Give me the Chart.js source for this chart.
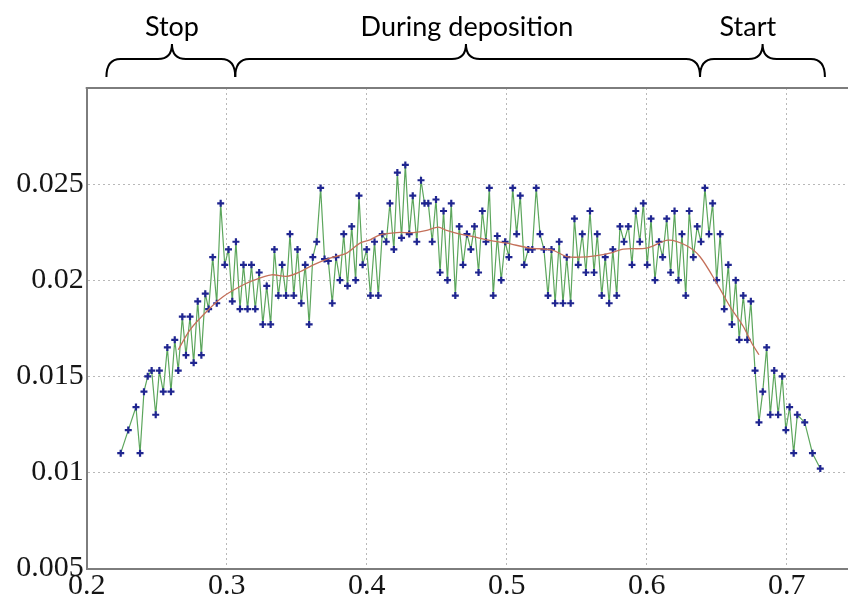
<!DOCTYPE html>
<html>
<head>
<meta charset="utf-8">
<script src="https://cdn.jsdelivr.net/npm/chart.js@4/dist/chart.umd.min.js"></script>
<style>
  html, body { margin: 0; padding: 0; background: #fff; overflow: hidden; }
  #wrap { width: 848px; height: 597px; }
  canvas { display: block; }
</style>
</head>
<body>
<div id="wrap"><canvas id="c" width="848" height="597"></canvas></div>
<script>
// Measured thickness profile along the substrate
const xValues = [
  0.2243, 0.2297, 0.2352, 0.2381, 0.2409, 0.2436, 0.2464, 0.2493, 0.2519, 0.2547,
  0.2576, 0.2602, 0.2629, 0.2654, 0.2683, 0.2709, 0.2738, 0.2764, 0.2793, 0.2819,
  0.2847, 0.2871, 0.2900, 0.2929, 0.2957, 0.2986, 0.3013, 0.3040, 0.3066, 0.3095,
  0.3120, 0.3149, 0.3177, 0.3204, 0.3232, 0.3258, 0.3286, 0.3314, 0.3341, 0.3369,
  0.3396, 0.3424, 0.3452, 0.3479, 0.3506, 0.3533, 0.3561, 0.3589, 0.3615, 0.3643,
  0.3671, 0.3699, 0.3726, 0.3754, 0.3781, 0.3809, 0.3836, 0.3863, 0.3893, 0.3921,
  0.3945, 0.3971, 0.4000, 0.4027, 0.4056, 0.4083, 0.4111, 0.4140, 0.4166, 0.4194,
  0.4219, 0.4249, 0.4276, 0.4304, 0.4329, 0.4358, 0.4388, 0.4413, 0.4440, 0.4468,
  0.4495, 0.4524, 0.4549, 0.4577, 0.4604, 0.4633, 0.4661, 0.4688, 0.4716, 0.4744,
  0.4770, 0.4799, 0.4826, 0.4852, 0.4876, 0.4904, 0.4933, 0.4961, 0.4989, 0.5016,
  0.5043, 0.5071, 0.5097, 0.5125, 0.5154, 0.5183, 0.5211, 0.5238, 0.5266, 0.5295,
  0.5320, 0.5346, 0.5375, 0.5402, 0.5429, 0.5457, 0.5484, 0.5511, 0.5540, 0.5566,
  0.5595, 0.5624, 0.5647, 0.5679, 0.5704, 0.5732, 0.5758, 0.5786, 0.5809, 0.5838,
  0.5869, 0.5895, 0.5922, 0.5951, 0.5976, 0.6004, 0.6031, 0.6059, 0.6088, 0.6114,
  0.6143, 0.6171, 0.6199, 0.6227, 0.6252, 0.6279, 0.6304, 0.6333, 0.6361, 0.6388,
  0.6416, 0.6445, 0.6471, 0.6500, 0.6525, 0.6554, 0.6583, 0.6609, 0.6636, 0.6661,
  0.6690, 0.6719, 0.6744, 0.6774, 0.6802, 0.6829, 0.6857, 0.6883, 0.6911, 0.6939,
  0.6968, 0.6994, 0.7021, 0.7050, 0.7076, 0.7129, 0.7184, 0.7240
];
const yValues = [
  0.0110, 0.0122, 0.0134, 0.0110, 0.0142, 0.0150, 0.0153, 0.0130, 0.0153, 0.0142,
  0.0165, 0.0142, 0.0169, 0.0153, 0.0181, 0.0161, 0.0181, 0.0157, 0.0189, 0.0161,
  0.0193, 0.0185, 0.0212, 0.0188, 0.0240, 0.0208, 0.0216, 0.0189, 0.0220, 0.0185,
  0.0208, 0.0185, 0.0208, 0.0185, 0.0204, 0.0177, 0.0197, 0.0177, 0.0216, 0.0192,
  0.0208, 0.0192, 0.0224, 0.0192, 0.0216, 0.0188, 0.0208, 0.0177, 0.0212, 0.0220,
  0.0248, 0.0211, 0.0210, 0.0188, 0.0212, 0.0200, 0.0224, 0.0197, 0.0228, 0.0200,
  0.0244, 0.0208, 0.0216, 0.0192, 0.0220, 0.0192, 0.0224, 0.0220, 0.0240, 0.0216,
  0.0256, 0.0222, 0.0260, 0.0224, 0.0244, 0.0220, 0.0252, 0.0240, 0.0240, 0.0220,
  0.0242, 0.0204, 0.0236, 0.0200, 0.0240, 0.0192, 0.0228, 0.0208, 0.0224, 0.0216,
  0.0228, 0.0204, 0.0236, 0.0220, 0.0248, 0.0192, 0.0223, 0.0200, 0.0220, 0.0212,
  0.0248, 0.0224, 0.0244, 0.0208, 0.0216, 0.0216, 0.0248, 0.0224, 0.0216, 0.0192,
  0.0216, 0.0188, 0.0220, 0.0188, 0.0212, 0.0188, 0.0232, 0.0208, 0.0224, 0.0204,
  0.0236, 0.0204, 0.0224, 0.0192, 0.0212, 0.0188, 0.0216, 0.0192, 0.0228, 0.0220,
  0.0228, 0.0208, 0.0236, 0.0220, 0.0240, 0.0208, 0.0232, 0.0200, 0.0220, 0.0212,
  0.0232, 0.0204, 0.0236, 0.0200, 0.0224, 0.0192, 0.0236, 0.0212, 0.0228, 0.0220,
  0.0248, 0.0224, 0.0240, 0.0200, 0.0224, 0.0185, 0.0208, 0.0177, 0.0200, 0.0169,
  0.0192, 0.0169, 0.0189, 0.0153, 0.0126, 0.0142, 0.0165, 0.0130, 0.0153, 0.0130,
  0.0150, 0.0122, 0.0134, 0.0110, 0.0130, 0.0126, 0.0110, 0.0102
];

// Smoothed (moving-average) trend of the same profile
const trendX = [
  0.2654, 0.2738, 0.2869, 0.2976, 0.3095, 0.3190, 0.3321, 0.3429, 0.3524, 0.3619,
  0.3738, 0.3857, 0.3952, 0.4024, 0.4095, 0.4214, 0.4333, 0.4429, 0.4511, 0.4571,
  0.4666, 0.4761, 0.4857, 0.5000, 0.5166, 0.5321, 0.5429, 0.5524, 0.5631, 0.5738,
  0.5833, 0.6000, 0.6154, 0.6286, 0.6381, 0.6500, 0.6595, 0.6690, 0.6750, 0.6802
];
const trendY = [
  0.01638, 0.01742, 0.01846, 0.01915, 0.01967, 0.01999, 0.02028, 0.02020, 0.02044, 0.02080,
  0.02115, 0.02141, 0.02193, 0.02210, 0.02236, 0.02248, 0.02248, 0.02259, 0.02276, 0.02259,
  0.02240, 0.02227, 0.02210, 0.02193, 0.02167, 0.02158, 0.02123, 0.02120, 0.02127, 0.02141,
  0.02162, 0.02167, 0.02208, 0.02179, 0.02122, 0.01985, 0.01863, 0.01759, 0.01673, 0.01612
];

// Axis ticks and ranges
const xTicks = [0.2, 0.3, 0.4, 0.5, 0.6, 0.7];
const yTicks = [0.005, 0.01, 0.015, 0.02, 0.025];
const xRange = [0.2, 0.7438];
const yRange = [0.005, 0.030];

// Process phases marked with braces above the plot (x in axis units)
const phaseLabels = ['Stop', 'During deposition', 'Start'];
const phaseFrom   = [0.2141, 0.3061, 0.6381];
const phaseTo     = [0.3061, 0.6381, 0.7273];
const phaseTip    = [0.2609, 0.4709, 0.6828];
const phaseText   = [0.2609, 0.4716, 0.6723];

const profilePoints = xValues.map((x, i) => ({ x, y: yValues[i] }));
const trendPoints = trendX.map((x, i) => ({ x, y: trendY[i] }));

const tickFont = { family: "'Liberation Serif', 'Times New Roman', serif", size: 30 };
const gridColor = '#b8b8b8';
const frameColor = '#7d7d7d';

const decor = {
  id: 'decor',
  beforeDraw(chart) {
    const c = chart.ctx;
    c.save();
    c.fillStyle = '#ffffff';
    c.fillRect(0, 0, chart.width, chart.height);
    c.restore();
  },
  afterDraw(chart) {
    const { ctx, chartArea: a, scales: { x } } = chart;
    ctx.save();
    // upper frame edge
    ctx.strokeStyle = frameColor;
    ctx.lineWidth = 2;
    ctx.beginPath();
    ctx.moveTo(a.left - 1, a.top);
    ctx.lineTo(chart.width, a.top);
    ctx.stroke();

    // curly braces with phase names
    const yEnd = a.top - 11, yMid = a.top - 29, yTip = a.top - 44, r = 14;
    ctx.strokeStyle = '#000';
    ctx.lineWidth = 2;
    ctx.fillStyle = '#000';
    ctx.font = "27px Lato, 'Open Sans', sans-serif";
    ctx.textAlign = 'center';
    ctx.textBaseline = 'middle';
    phaseLabels.forEach((label, i) => {
      const x0 = x.getPixelForValue(phaseFrom[i]);
      const x1 = x.getPixelForValue(phaseTo[i]);
      const t = x.getPixelForValue(phaseTip[i]);
      ctx.beginPath();
      ctx.moveTo(x0, yEnd);
      ctx.quadraticCurveTo(x0, yMid, x0 + r, yMid);
      ctx.lineTo(t - r, yMid);
      ctx.quadraticCurveTo(t, yMid, t, yTip);
      ctx.moveTo(t, yTip);
      ctx.quadraticCurveTo(t, yMid, t + r, yMid);
      ctx.lineTo(x1 - r, yMid);
      ctx.quadraticCurveTo(x1, yMid, x1, yEnd);
      ctx.stroke();
      ctx.fillText(label, x.getPixelForValue(phaseText[i]), a.top - 61);
    });
    ctx.restore();
  }
};

new Chart(document.getElementById('c'), {
  type: 'line',
  data: {
    datasets: [
      {
        label: 'trend',
        data: trendPoints,
        borderColor: '#c4705a',
        borderWidth: 1.3,
        pointRadius: 0,
        tension: 0.3,
        order: 0
      },
      {
        label: 'profile',
        data: profilePoints,
        borderColor: '#5ca65c',
        borderWidth: 1.2,
        tension: 0,
        pointStyle: 'cross',
        pointRadius: 3.5,
        pointBorderWidth: 2.2,
        pointBorderColor: '#1f2590',
        pointBackgroundColor: '#1f2590',
        order: 1
      }
    ]
  },
  plugins: [decor],
  options: {
    responsive: false,
    animation: false,
    events: [],
    layout: { autoPadding: false, padding: { top: 88, left: 0, right: 0, bottom: 0 } },
    plugins: { legend: { display: false }, tooltip: { enabled: false } },
    scales: {
      x: {
        type: 'linear',
        min: xRange[0],
        max: xRange[1],
        afterBuildTicks: s => { s.ticks = xTicks.map(v => ({ value: v })); },
        afterFit: s => { s.height = 28.5; s.paddingLeft = 0; s.paddingRight = 0; },
        ticks: {
          font: tickFont,
          color: '#151515',
          padding: 0,
          maxRotation: 0,
          autoSkip: false,
          callback: v => String(v)
        },
        grid: { color: gridColor, lineWidth: 1, drawTicks: false, tickLength: 0 },
        border: { display: true, color: frameColor, width: 2, dash: [2, 3] }
      },
      y: {
        type: 'linear',
        min: yRange[0],
        max: yRange[1],
        afterBuildTicks: s => { s.ticks = yTicks.map(v => ({ value: v })); },
        afterFit: s => { s.width = 86.7; },
        ticks: {
          font: tickFont,
          color: '#151515',
          padding: 3,
          autoSkip: false,
          callback: v => String(v)
        },
        grid: { color: gridColor, lineWidth: 1, drawTicks: false, tickLength: 0 },
        border: { display: true, color: frameColor, width: 2, dash: [2, 3] }
      }
    }
  }
});
</script>
</body>
</html>
